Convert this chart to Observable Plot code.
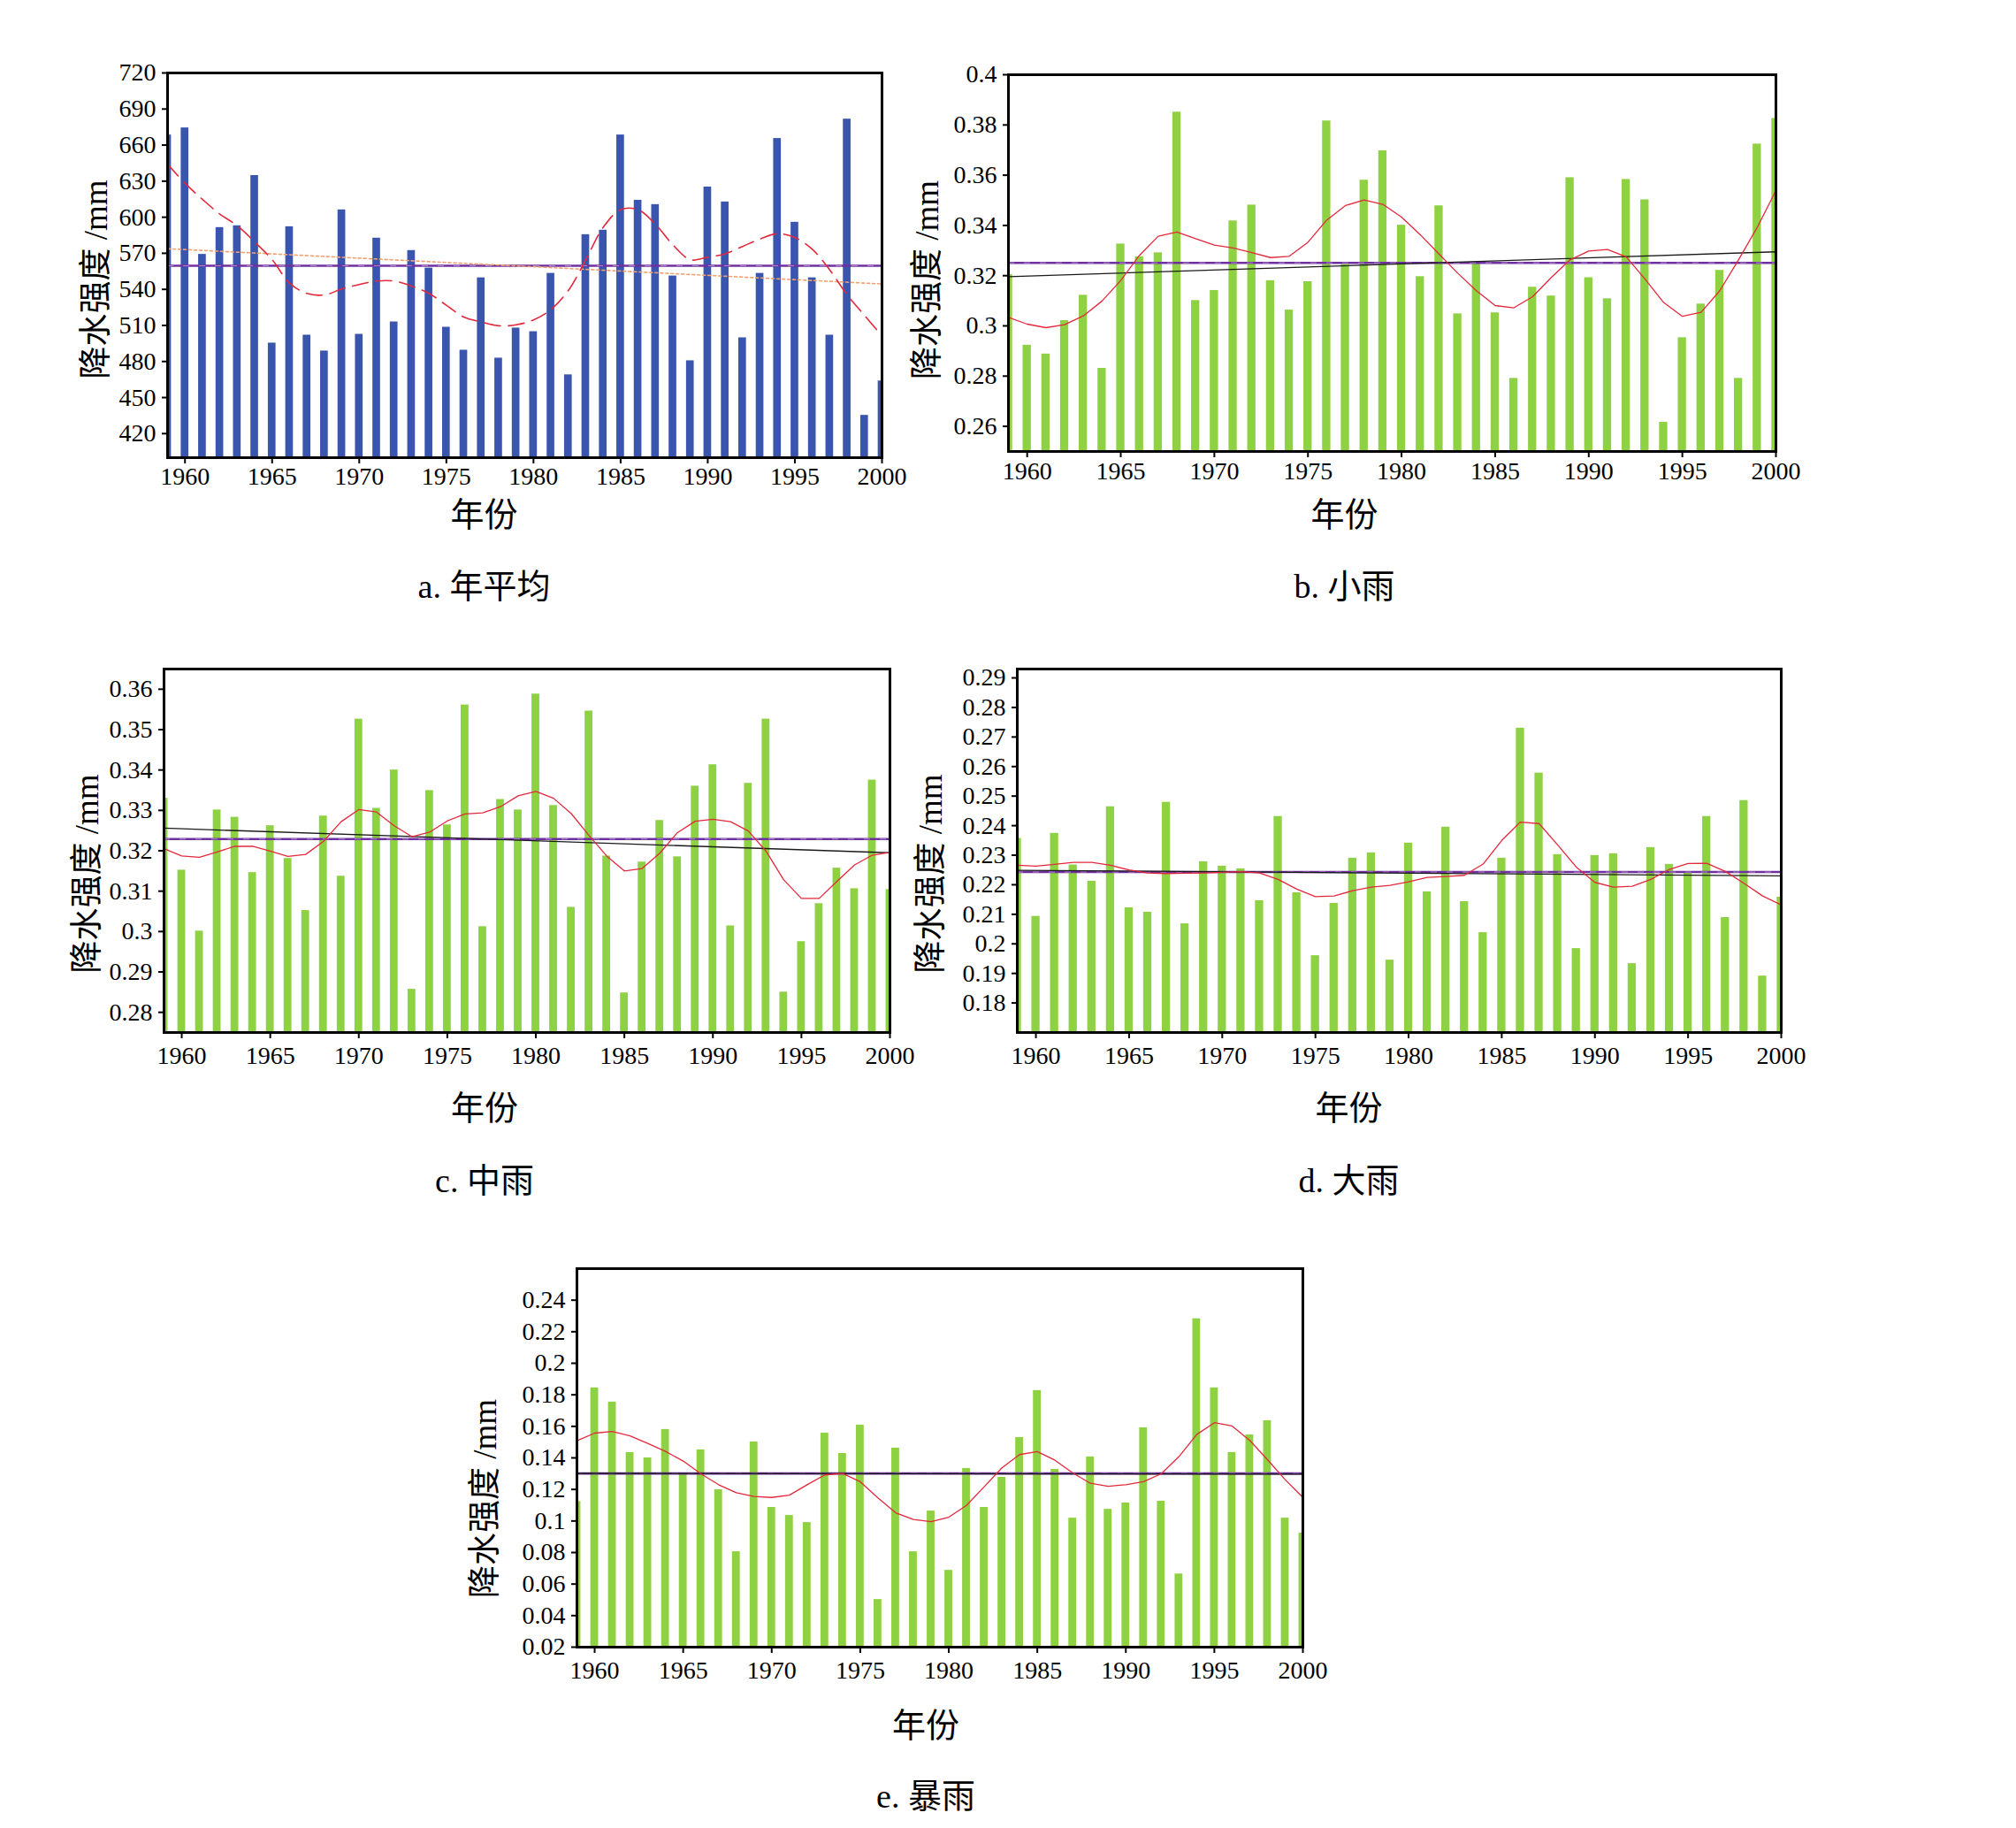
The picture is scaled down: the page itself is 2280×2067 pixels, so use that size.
<!DOCTYPE html>
<html><head><meta charset="utf-8">
<script src="https://cdn.jsdelivr.net/npm/d3@7"></script>
<script src="https://cdn.jsdelivr.net/npm/@observablehq/plot@0.6"></script>
<style>
html,body{margin:0;padding:0;background:#fff;}
#page{position:relative;width:2280px;height:2067px;background:#fff;overflow:hidden;}
.panel{position:absolute;}
.panel svg{max-width:none !important;overflow:visible;}
</style></head><body><div id="page"></div>
<script>
// ---------- data ----------
const years = d3.range(1959, 2001);
const xTicks = [1960, 1965, 1970, 1975, 1980, 1985, 1990, 1995, 2000];

// a. 年平均
const barsA = [668.4, 674.3, 569.1, 591.4, 592.9, 634.7, 495.3, 592.1, 501.9, 488.7,
  606.1, 502.6, 582.6, 512.9, 572.3, 557.7, 508.5, 489.4, 549.6, 482.8,
  507.8, 504.8, 553.3, 468.9, 585.5, 589.2, 668.4, 614.1, 610.5, 551.1,
  480.6, 625.1, 612.7, 499.7, 553.3, 665.5, 595.8, 549.6, 501.9, 681.6,
  435.2, 463.8];
const curveA = [644.2, 628.3, 614.9, 602.6, 592.9, 579.4, 564.7, 545.2, 536.6, 535.4,
  540.3, 544.0, 546.9, 546.9, 542.7, 536.6, 526.8, 517.0, 512.9, 509.7,
  510.5, 514.6, 523.2, 539.1, 564.7, 591.6, 606.3, 606.3, 594.1, 577.0,
  564.7, 566.7, 569.6, 575.7, 581.9, 586.3, 583.1, 573.3, 556.2, 535.4,
  518.3, 501.2];
const meanA = 559.6;
const trendA = [573.8, 544.5];
const ticksA = [420, 450, 480, 510, 540, 570, 600, 630, 660, 690, 720];

// b. 小雨
const barsB = [0.3204, 0.2923, 0.2888, 0.3021, 0.3122, 0.2831, 0.3326, 0.3275, 0.3291, 0.3851,
  0.3101, 0.3141, 0.3418, 0.3481, 0.3180, 0.3063, 0.3176, 0.3816, 0.3245, 0.3580,
  0.3697, 0.3401, 0.3196, 0.3478, 0.3048, 0.3255, 0.3052, 0.2791, 0.3154, 0.3119,
  0.3590, 0.3192, 0.3108, 0.3583, 0.3502, 0.2616, 0.2953, 0.3087, 0.3221, 0.2791,
  0.3724, 0.3826];
const curveB = [0.3034, 0.3007, 0.2993, 0.3005, 0.3040, 0.3099, 0.3181, 0.3281, 0.3357, 0.3374,
  0.3347, 0.3322, 0.3310, 0.3292, 0.3272, 0.3277, 0.3333, 0.3421, 0.3479, 0.3501,
  0.3484, 0.3433, 0.3363, 0.3286, 0.3210, 0.3140, 0.3081, 0.3072, 0.3116, 0.3193,
  0.3263, 0.3298, 0.3304, 0.3275, 0.3187, 0.3093, 0.3038, 0.3054, 0.3140, 0.3263,
  0.3392, 0.3539];
const meanB = 0.3251;
const trendB = [0.3196, 0.3295];
const ticksB = [0.26, 0.28, 0.3, 0.32, 0.34, 0.36, 0.38, 0.4];

// c. 中雨
const barsC = [0.3330, 0.3152, 0.3001, 0.3301, 0.3283, 0.3146, 0.3262, 0.3181, 0.3052, 0.3286,
  0.3137, 0.3526, 0.3305, 0.3400, 0.2857, 0.3349, 0.3264, 0.3561, 0.3012, 0.3327,
  0.3301, 0.3588, 0.3312, 0.3060, 0.3546, 0.3187, 0.2848, 0.3172, 0.3275, 0.3185,
  0.3360, 0.3413, 0.3014, 0.3367, 0.3526, 0.2850, 0.2975, 0.3069, 0.3157, 0.3106,
  0.3375, 0.3104];
const curveC = [0.3205, 0.3187, 0.3184, 0.3197, 0.3211, 0.3211, 0.3199, 0.3186, 0.3191, 0.3223,
  0.3272, 0.3302, 0.3296, 0.3262, 0.3235, 0.3246, 0.3274, 0.3291, 0.3294, 0.3309,
  0.3336, 0.3347, 0.3330, 0.3292, 0.3238, 0.3187, 0.3150, 0.3156, 0.3194, 0.3245,
  0.3273, 0.3278, 0.3272, 0.3249, 0.3199, 0.3128, 0.3082, 0.3082, 0.3124, 0.3165,
  0.3189, 0.3196];
const meanC = 0.3229;
const trendC = [0.3256, 0.3195];
const ticksC = [0.28, 0.29, 0.3, 0.31, 0.32, 0.33, 0.34, 0.35, 0.36];

// d. 大雨
const barsD = [0.2357, 0.2093, 0.2374, 0.2267, 0.2212, 0.2464, 0.2122, 0.2107, 0.2479, 0.2068,
  0.2278, 0.2263, 0.2254, 0.2146, 0.2431, 0.2173, 0.1960, 0.2137, 0.2290, 0.2308,
  0.1945, 0.2341, 0.2176, 0.2395, 0.2143, 0.2038, 0.2290, 0.2730, 0.2578, 0.2302,
  0.1984, 0.2299, 0.2305, 0.1933, 0.2326, 0.2269, 0.2239, 0.2431, 0.2089, 0.2485,
  0.1891, 0.2158];
const curveD = [0.2266, 0.2263, 0.2269, 0.2276, 0.2276, 0.2266, 0.2250, 0.2240, 0.2238, 0.2239,
  0.2240, 0.2242, 0.2244, 0.2240, 0.2218, 0.2185, 0.2160, 0.2162, 0.2180, 0.2192,
  0.2198, 0.2210, 0.2225, 0.2228, 0.2232, 0.2270, 0.2350, 0.2412, 0.2407, 0.2335,
  0.2260, 0.2208, 0.2192, 0.2195, 0.2218, 0.2252, 0.2272, 0.2273, 0.2245, 0.2205,
  0.2162, 0.2132];
const meanD = 0.2243;
const trendD = [0.2249, 0.2230];
const ticksD = [0.18, 0.19, 0.2, 0.21, 0.22, 0.23, 0.24, 0.25, 0.26, 0.27, 0.28, 0.29];

// e. 暴雨
const barsE = [0.1123, 0.1844, 0.1754, 0.1434, 0.1400, 0.1580, 0.1299, 0.1451, 0.1198, 0.0805,
  0.1501, 0.1086, 0.1035, 0.0990, 0.1557, 0.1428, 0.1608, 0.0502, 0.1462, 0.0805,
  0.1063, 0.0687, 0.1333, 0.1086, 0.1277, 0.1529, 0.1827, 0.1327, 0.1018, 0.1406,
  0.1074, 0.1114, 0.1591, 0.1125, 0.0664, 0.2282, 0.1844, 0.1434, 0.1546, 0.1636,
  0.1018, 0.0923];
const curveE = [0.1509, 0.1557, 0.1567, 0.1539, 0.1492, 0.1441, 0.1380, 0.1299, 0.1230, 0.1179,
  0.1155, 0.1149, 0.1164, 0.1230, 0.1292, 0.1301, 0.1249, 0.1146, 0.1052, 0.1009,
  0.0996, 0.1024, 0.1099, 0.1217, 0.1337, 0.1421, 0.1440, 0.1385, 0.1305, 0.1239,
  0.1220, 0.1230, 0.1249, 0.1299, 0.1408, 0.1548, 0.1623, 0.1602, 0.1511, 0.1389,
  0.1262, 0.1149];
const meanE = 0.1301;
const trendE = [0.1302, 0.1297];
const ticksE = [0.02, 0.04, 0.06, 0.08, 0.1, 0.12, 0.14, 0.16, 0.18, 0.2, 0.22, 0.24];

const yLabel = "降水强度 /mm";
const xLabel = "年份";

// ---------- styles / layout ----------
const BLUE = "#3a55ad", GREEN = "#8ed142", PURPLE = "#7030a0", RED = "#e3283c",
      ORANGE = "#f2a070", BLACK = "#1a1a1a";
const SERIF = "'Liberation Serif', 'Times New Roman', serif";
const MIXED = "'Liberation Serif', 'Noto Sans CJK SC', serif";

const panels = [
  {bars: barsA, curve: curveA, mean: meanA, trend: trendA, ticks: ticksA, yDomain: [400, 720],
   color: BLUE, caption: "a. 年平均", annual: true, xPad: 4,
   frame: {l: 189, t: 82, r: 997, b: 517}, ylDx: -80, ylDy: 16, xlDx: -46, xlDy: 65, capDy: 146},
  {bars: barsB, curve: curveB, mean: meanB, trend: trendB, ticks: ticksB, yDomain: [0.25, 0.4],
   color: GREEN, caption: "b. 小雨", xPad: 5,
   frame: {l: 1140, t: 84, r: 2008, b: 510}, ylDx: -91, ylDy: 19, xlDx: -54, xlDy: 72, capDy: 153},
  {bars: barsC, curve: curveC, mean: meanC, trend: trendC, ticks: ticksC, yDomain: [0.275, 0.365],
   color: GREEN, caption: "c. 中雨", xPad: 9,
   frame: {l: 185, t: 756, r: 1006, b: 1167}, ylDx: -86, ylDy: 26, xlDx: -48, xlDy: 86, capDy: 168},
  {bars: barsD, curve: curveD, mean: meanD, trend: trendD, ticks: ticksD, yDomain: [0.17, 0.293],
   color: GREEN, caption: "d. 大雨", xPad: 9,
   frame: {l: 1150, t: 756, r: 2014, b: 1167}, ylDx: -97, ylDy: 26, xlDx: -57, xlDy: 86, capDy: 168},
  {bars: barsE, curve: curveE, mean: meanE, trend: trendE, ticks: ticksE, yDomain: [0.02, 0.26],
   color: GREEN, caption: "e. 暴雨", xPad: 9,
   frame: {l: 652, t: 1434, r: 1473, b: 1862}, ylDx: -103, ylDy: 46, xlDx: -16, xlDy: 89, capDy: 169}
];

const fmtNum = d => String(+d.toFixed(3));
const page = document.getElementById("page");

for (const p of panels) {
  const mL = 135, mR = 45, mT = 30, mB = p.capDy + 40;
  const w = p.frame.r - p.frame.l, h = p.frame.b - p.frame.t;
  const y0 = p.yDomain[0];
  const barData = years.map((year, i) => ({year, v: p.bars[i]}));
  const curveData = years.map((year, i) => ({year, v: p.curve[i]}));
  const trendData = [{year: years[0], v: p.trend[0]}, {year: years[years.length - 1], v: p.trend[1]}];

  const marks = [
    Plot.rect(barData, {x1: d => d.year - 0.22, x2: d => d.year + 0.22, y1: d => y0, y2: "v",
      fill: p.color, clip: true}),
    Plot.ruleY([p.mean], {stroke: PURPLE, strokeWidth: 2.6}),
    Plot.ruleY([p.mean], {stroke: "#ffffff", strokeOpacity: 0.55, strokeWidth: 0.8, strokeDasharray: "7,11"})
  ];
  if (p.annual) {
    marks.push(
      Plot.line(trendData, {x: "year", y: "v", stroke: ORANGE, strokeWidth: 1.6, strokeDasharray: "3,3", clip: true}),
      Plot.line(curveData, {x: "year", y: "v", stroke: RED, strokeWidth: 1.6, strokeDasharray: "18,9",
        curve: "catmull-rom", clip: true})
    );
  } else {
    marks.push(
      Plot.line(trendData, {x: "year", y: "v", stroke: BLACK, strokeWidth: 1.3, clip: true}),
      Plot.line(curveData, {x: "year", y: "v", stroke: RED, strokeWidth: 1.3, clip: true})
    );
  }
  marks.push(
    Plot.frame({stroke: "#000", strokeWidth: 3}),
    Plot.axisX({ticks: xTicks, tickFormat: d => String(d), tickSize: 7, tickPadding: p.xPad,
      fontSize: 28, strokeWidth: 2, label: null}),
    Plot.axisY({ticks: p.ticks, tickFormat: fmtNum, tickSize: 6, tickPadding: 7,
      fontSize: 28, strokeWidth: 2, label: null}),
    Plot.text([yLabel], {frameAnchor: "left", dx: p.ylDx, dy: p.ylDy, rotate: -90,
      textAnchor: "middle", lineAnchor: "middle", fontSize: 37, fontFamily: MIXED, fill: "#000"}),
    Plot.text([xLabel], {frameAnchor: "bottom", dx: p.xlDx, dy: p.xlDy,
      textAnchor: "middle", lineAnchor: "middle", fontSize: 38, fontFamily: MIXED, fill: "#000"}),
    Plot.text([p.caption], {frameAnchor: "bottom", dx: p.xlDx, dy: p.capDy,
      textAnchor: "middle", lineAnchor: "middle", fontSize: 38, fontFamily: MIXED, fill: "#000"})
  );

  const chart = Plot.plot({
    width: w + mL + mR, height: h + mT + mB,
    marginLeft: mL, marginRight: mR, marginTop: mT, marginBottom: mB,
    style: {background: "transparent", fontFamily: SERIF, fontSize: "28px", color: "#000", overflow: "visible"},
    x: {type: "linear", domain: [1959, 2000]},
    y: {type: "linear", domain: p.yDomain},
    marks
  });
  const div = document.createElement("div");
  div.className = "panel";
  div.style.left = (p.frame.l - mL) + "px";
  div.style.top = (p.frame.t - mT) + "px";
  div.style.width = (w + mL + mR) + "px";
  div.appendChild(chart);
  page.appendChild(div);
}
</script></body></html>
